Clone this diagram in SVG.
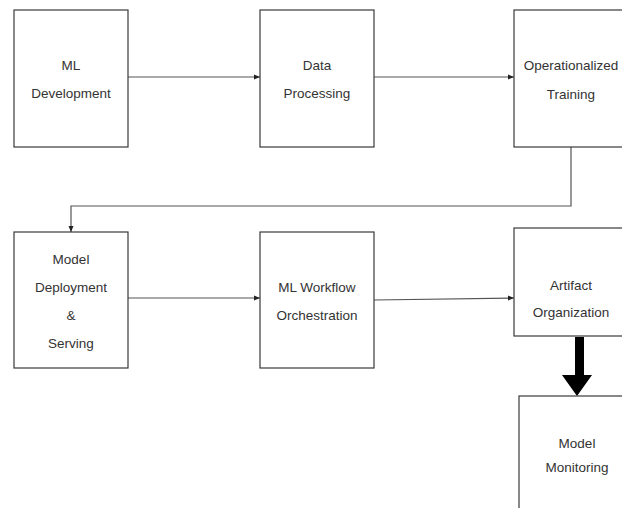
<svg xmlns="http://www.w3.org/2000/svg" width="622" height="508" viewBox="0 0 622 508">
<style>
.box{fill:#fff;stroke:#3a3a3a;stroke-width:1.2}
.t{font-family:"Liberation Sans",Arial,sans-serif;font-size:13.5px;fill:#333;text-anchor:middle}
.c{fill:none;stroke:#555;stroke-width:1.2}
</style>
<defs>
<marker id="ah" markerWidth="6" markerHeight="6" refX="6" refY="3" orient="auto" markerUnits="userSpaceOnUse">
<path d="M0,0.5 L6,3 L0,5.5 Z" fill="#222"/>
</marker>
</defs>
<rect width="622" height="508" fill="#fff"/>
<g id="connectors">
<line class="c" x1="128" y1="77" x2="260" y2="77" marker-end="url(#ah)"/>
<line class="c" x1="374" y1="77" x2="514" y2="77" marker-end="url(#ah)"/>
<polyline class="c" points="571,147 571,206 71,206 71,232" marker-end="url(#ah)"/>
<line class="c" x1="128" y1="298" x2="260" y2="298" marker-end="url(#ah)"/>
<line class="c" x1="374" y1="300" x2="514" y2="298" marker-end="url(#ah)"/>
<polygon points="575,337 584,337 584,375 592,375 577,396 562,375 575,375" fill="#000"/>
</g>
<g id="n1"><rect class="box" x="14" y="10" width="114" height="137"/>
<text class="t" x="71" y="70">ML</text><text class="t" x="71" y="98">Development</text></g>
<g id="n2"><rect class="box" x="260" y="10" width="114" height="137"/>
<text class="t" x="317" y="70">Data</text><text class="t" x="317" y="98">Processing</text></g>
<g id="n3"><rect class="box" x="514" y="10" width="114" height="137"/>
<text class="t" x="571" y="70">Operationalized</text><text class="t" x="571" y="99">Training</text></g>
<g id="n4"><rect class="box" x="14" y="232" width="114" height="136"/>
<text class="t" x="71" y="264">Model</text><text class="t" x="71" y="292">Deployment</text><text class="t" x="71" y="320">&amp;</text><text class="t" x="71" y="348">Serving</text></g>
<g id="n5"><rect class="box" x="260" y="232" width="114" height="136"/>
<text class="t" x="317" y="292">ML Workflow</text><text class="t" x="317" y="320">Orchestration</text></g>
<g id="n6"><rect class="box" x="514" y="228" width="114" height="108"/>
<text class="t" x="571" y="290">Artifact</text><text class="t" x="571" y="317">Organization</text></g>
<g id="n7"><rect class="box" x="519" y="396" width="116" height="120"/>
<text class="t" x="577" y="448">Model</text><text class="t" x="577" y="472">Monitoring</text></g>
</svg>
